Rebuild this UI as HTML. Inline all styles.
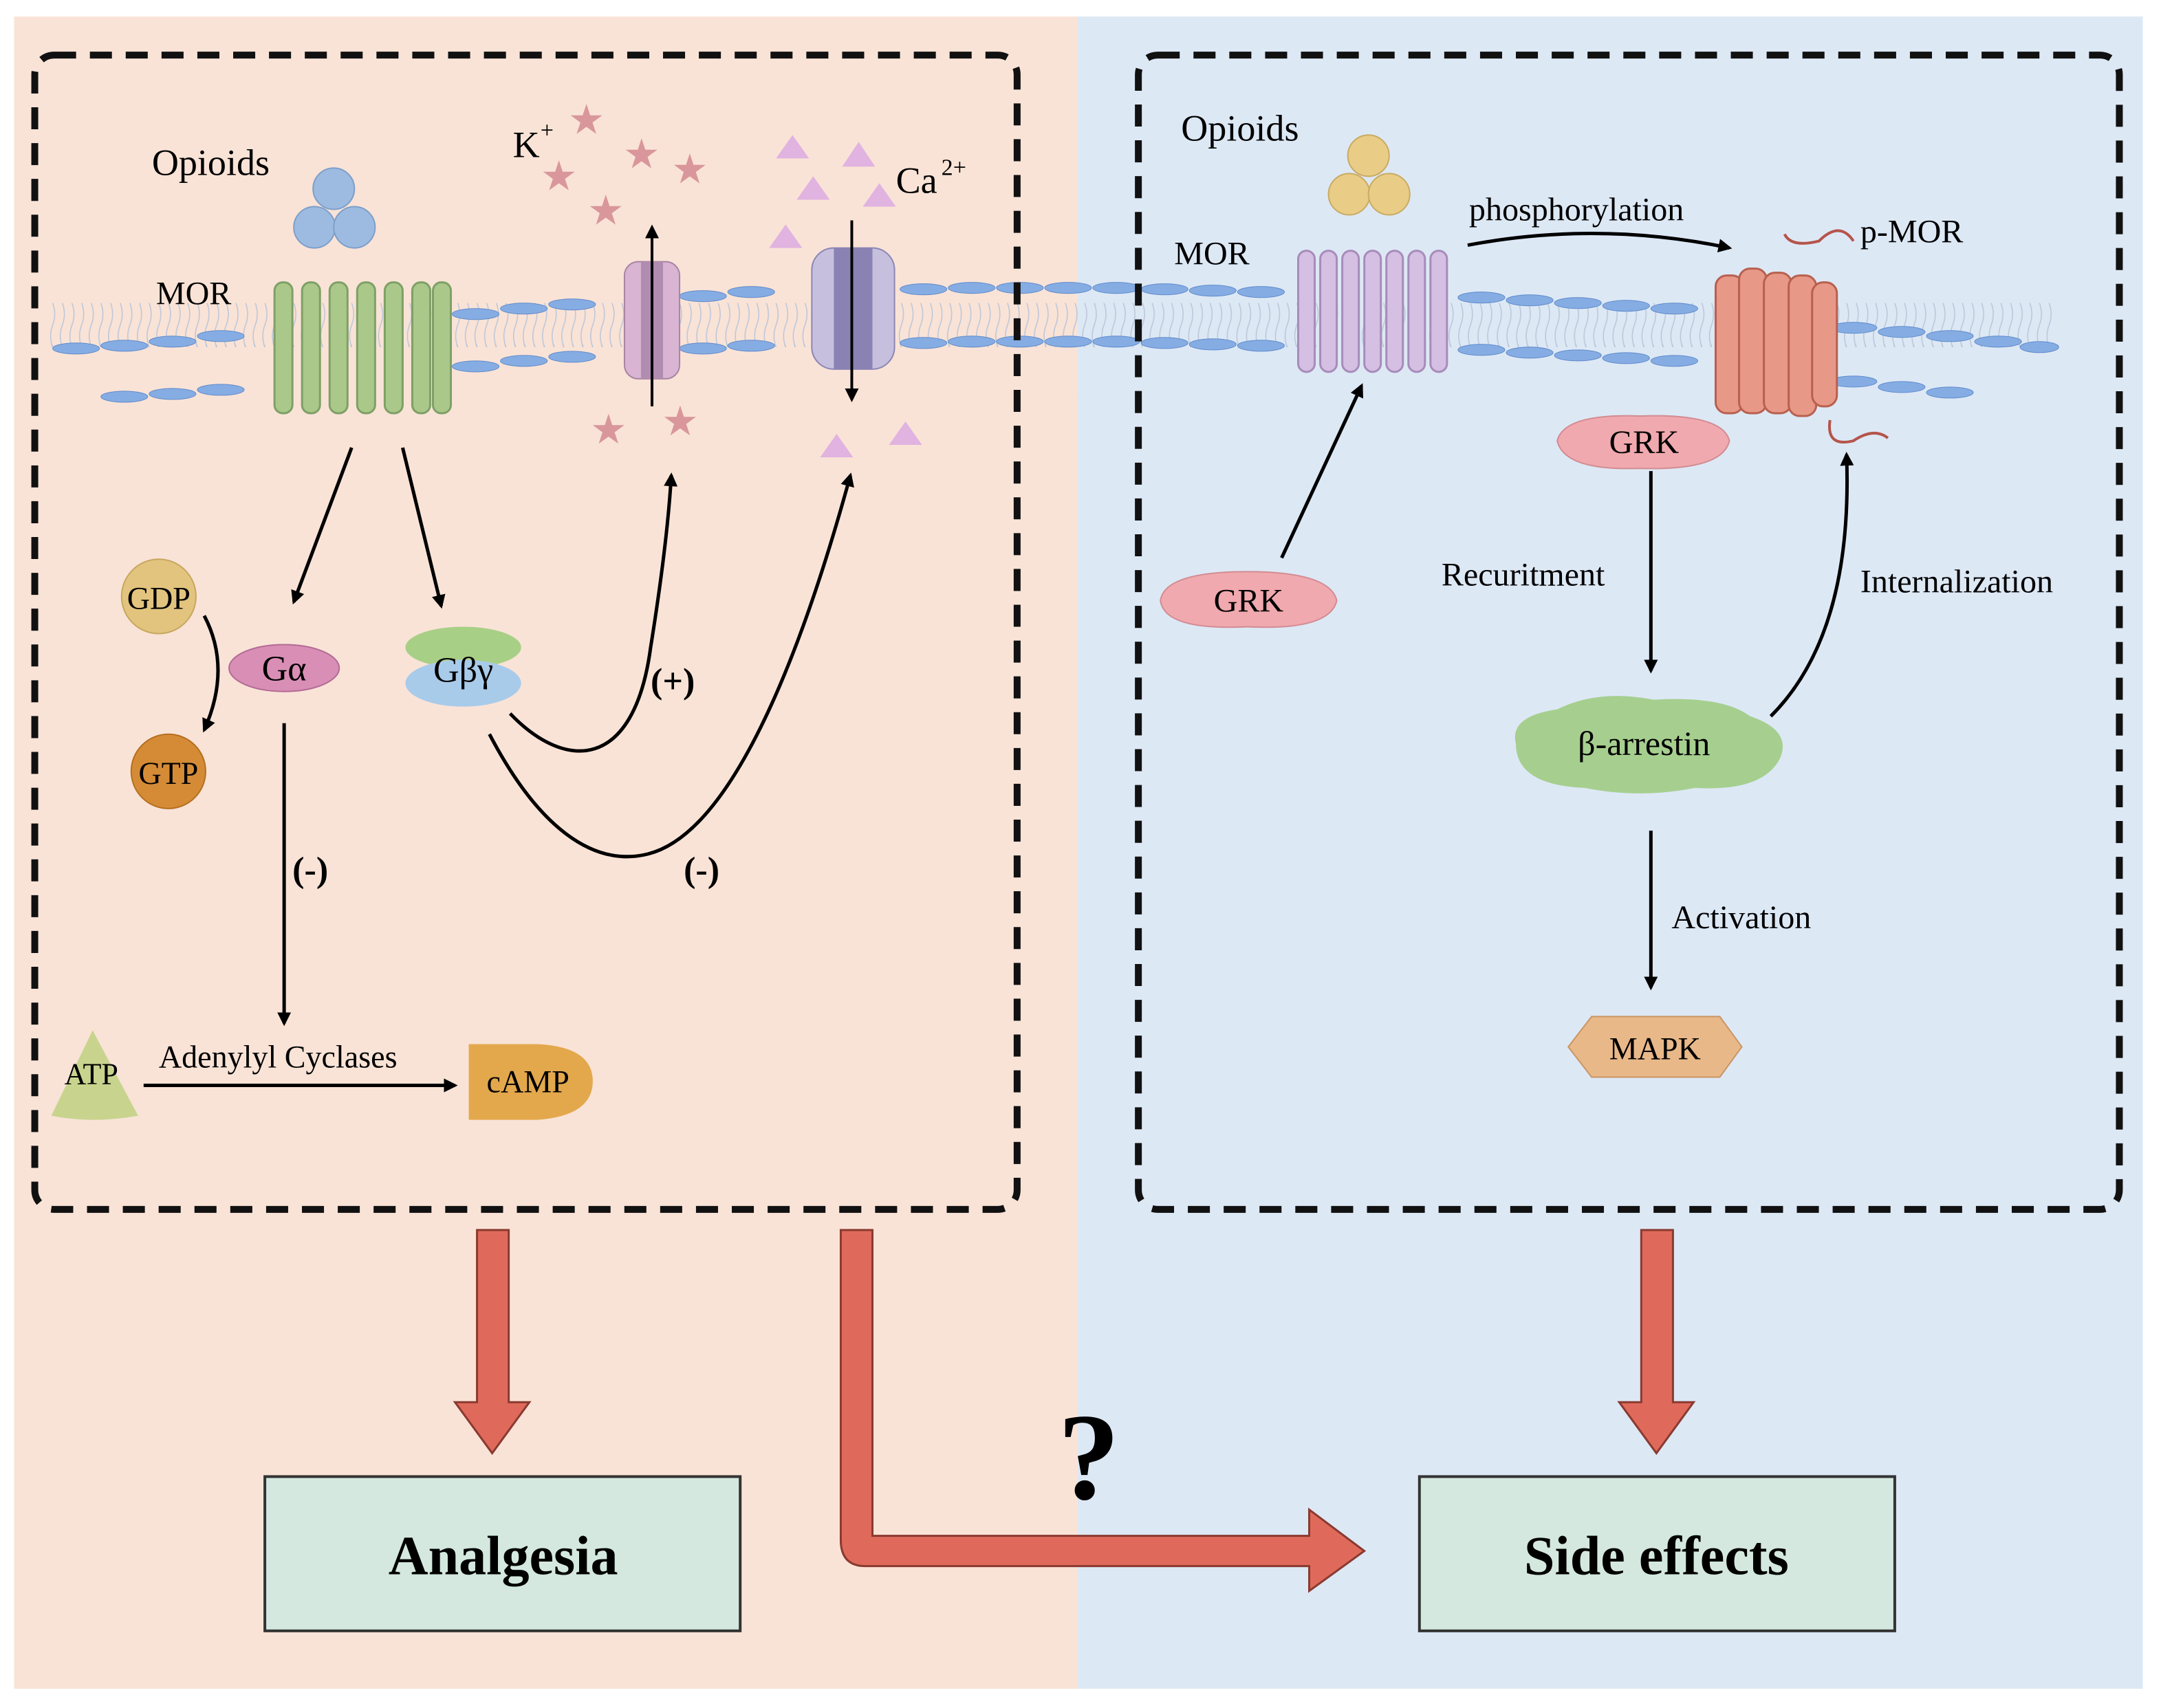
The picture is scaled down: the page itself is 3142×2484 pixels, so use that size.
<!DOCTYPE html>
<html><head><meta charset="utf-8"><style>
html,body{margin:0;padding:0;background:#fff}
svg{display:block}
text{font-family:"Liberation Serif",serif}
</style></head><body>
<svg width="3142" height="2484" viewBox="0 0 1568 1240" xmlns="http://www.w3.org/2000/svg" font-family="Liberation Serif, serif">
<defs>
<marker id="ah" markerWidth="10" markerHeight="10" refX="8" refY="5" orient="auto" markerUnits="userSpaceOnUse"><path d="M0,0 L10,5 L0,10 Z" fill="#000"/></marker>
<pattern id="lip" width="14" height="70" patternUnits="userSpaceOnUse">
<path d="M3,10 q3,8 0,16 q-3,8 0,16 M10,10 q3,8 0,16 q-3,8 0,16" stroke="#b8c4d8" stroke-width="0.8" fill="none"/>
</pattern>
</defs>
<rect x="0" y="0" width="1568" height="1240" fill="#fff"/>
<rect x="10" y="12" width="772" height="1214" fill="#f9e3d7"/>
<rect x="782" y="12" width="773" height="1214" fill="#dde8f5"/>

<path d="M35,250 L1490,250 L1490,290 L70,290 Z" fill="url(#lip)" opacity="0.9"/>
<path d="M35,205 L1490,205 L1490,255 L35,255 Z" fill="url(#lip)" opacity="0.9"/>
<g fill="#86ade3" stroke="#5f8bcb" stroke-width="0.5">
<ellipse cx="55" cy="253" rx="17" ry="4"/><ellipse cx="90" cy="251" rx="17" ry="4"/><ellipse cx="125" cy="248" rx="17" ry="4"/><ellipse cx="160" cy="244" rx="17" ry="4"/>
<ellipse cx="90" cy="288" rx="17" ry="4"/><ellipse cx="125" cy="286" rx="17" ry="4"/><ellipse cx="160" cy="283" rx="17" ry="4"/>
<ellipse cx="345" cy="228" rx="17" ry="4"/><ellipse cx="380" cy="224" rx="17" ry="4"/><ellipse cx="415" cy="221" rx="17" ry="4"/>
<ellipse cx="345" cy="266" rx="17" ry="4"/><ellipse cx="380" cy="262" rx="17" ry="4"/><ellipse cx="415" cy="259" rx="17" ry="4"/>
<ellipse cx="510" cy="215" rx="17" ry="4"/><ellipse cx="545" cy="212" rx="17" ry="4"/>
<ellipse cx="510" cy="253" rx="17" ry="4"/><ellipse cx="545" cy="251" rx="17" ry="4"/>
<ellipse cx="670" cy="210" rx="17" ry="4"/><ellipse cx="705" cy="209" rx="17" ry="4"/><ellipse cx="740" cy="209" rx="17" ry="4"/><ellipse cx="775" cy="209" rx="17" ry="4"/><ellipse cx="810" cy="209" rx="17" ry="4"/><ellipse cx="845" cy="210" rx="17" ry="4"/><ellipse cx="880" cy="211" rx="17" ry="4"/><ellipse cx="915" cy="212" rx="17" ry="4"/>
<ellipse cx="670" cy="249" rx="17" ry="4"/><ellipse cx="705" cy="248" rx="17" ry="4"/><ellipse cx="740" cy="248" rx="17" ry="4"/><ellipse cx="775" cy="248" rx="17" ry="4"/><ellipse cx="810" cy="248" rx="17" ry="4"/><ellipse cx="845" cy="249" rx="17" ry="4"/><ellipse cx="880" cy="250" rx="17" ry="4"/><ellipse cx="915" cy="251" rx="17" ry="4"/>
<ellipse cx="1075" cy="216" rx="17" ry="4"/><ellipse cx="1110" cy="218" rx="17" ry="4"/><ellipse cx="1145" cy="220" rx="17" ry="4"/><ellipse cx="1180" cy="222" rx="17" ry="4"/><ellipse cx="1215" cy="224" rx="17" ry="4"/>
<ellipse cx="1075" cy="254" rx="17" ry="4"/><ellipse cx="1110" cy="256" rx="17" ry="4"/><ellipse cx="1145" cy="258" rx="17" ry="4"/><ellipse cx="1180" cy="260" rx="17" ry="4"/><ellipse cx="1215" cy="262" rx="17" ry="4"/>
<ellipse cx="1345" cy="238" rx="17" ry="4"/><ellipse cx="1380" cy="241" rx="17" ry="4"/><ellipse cx="1415" cy="244" rx="17" ry="4"/><ellipse cx="1450" cy="248" rx="17" ry="4"/><ellipse cx="1480" cy="252" rx="14" ry="4"/>
<ellipse cx="1345" cy="277" rx="17" ry="4"/><ellipse cx="1380" cy="281" rx="17" ry="4"/><ellipse cx="1415" cy="285" rx="17" ry="4"/>
</g>

<rect x="25" y="40" width="713" height="838" rx="14" fill="none" stroke="#111" stroke-width="5" stroke-dasharray="16,10"/>
<rect x="826" y="40" width="712" height="838" rx="14" fill="none" stroke="#111" stroke-width="5" stroke-dasharray="16,10"/>

<text x="110" y="127" font-size="27">Opioids</text>
<g fill="#9dbbe0" stroke="#7d9fca"><circle cx="242" cy="137" r="15"/><circle cx="228" cy="165" r="15"/><circle cx="257" cy="165" r="15"/></g>
<text x="113" y="221" font-size="24">MOR</text>
<g fill="#a9c88a" stroke="#7fa066" stroke-width="1.5">
<rect x="199" y="205" width="13" height="95" rx="6"/><rect x="219" y="205" width="13" height="95" rx="6"/><rect x="239" y="205" width="13" height="95" rx="6"/><rect x="259" y="205" width="13" height="95" rx="6"/><rect x="279" y="205" width="13" height="95" rx="6"/><rect x="299" y="205" width="13" height="95" rx="6"/><rect x="314" y="205" width="13" height="95" rx="6"/>
</g>
<text x="372" y="114" font-size="27">K</text><text x="392" y="100" font-size="17">+</text>
<g fill="#d9979b" font-size="30" font-family="DejaVu Sans">
<text x="412" y="97" font-family="DejaVu Sans">★</text><text x="452" y="122" font-family="DejaVu Sans">★</text><text x="487" y="133" font-family="DejaVu Sans">★</text><text x="392" y="138" font-family="DejaVu Sans">★</text><text x="426" y="163" font-family="DejaVu Sans">★</text><text x="428" y="322" font-family="DejaVu Sans">★</text><text x="480" y="316" font-family="DejaVu Sans">★</text>
</g>
<rect x="453" y="190" width="40" height="85" rx="10" fill="#d9b4d3" stroke="#a885a3"/>
<rect x="465" y="190" width="16" height="85" fill="#b08cb0"/>
<line x1="473" y1="295" x2="473" y2="165" stroke="#000" stroke-width="2" marker-end="url(#ah)"/>
<g fill="#e0b3e0"><path d="M563,115 L575,98 L587,115Z"/><path d="M611,121 L623,103 L635,121Z"/><path d="M578,145 L590,128 L602,145Z"/><path d="M626,150 L638,133 L650,150Z"/><path d="M558,180 L570,163 L582,180Z"/><path d="M595,332 L607,315 L619,332Z"/><path d="M645,323 L657,306 L669,323Z"/></g>
<text x="650" y="140" font-size="27">Ca</text><text x="683" y="127" font-size="17">2+</text>
<rect x="589" y="180" width="60" height="88" rx="16" fill="#c6c0de" stroke="#8d86b5"/>
<rect x="605" y="180" width="28" height="88" fill="#8a82b3"/>
<line x1="618" y1="160" x2="618" y2="290" stroke="#000" stroke-width="2" marker-end="url(#ah)"/>

<line x1="255" y1="325" x2="213" y2="437" stroke="#000" stroke-width="2.5" marker-end="url(#ah)"/>
<line x1="292" y1="325" x2="320" y2="440" stroke="#000" stroke-width="2.5" marker-end="url(#ah)"/>
<circle cx="115" cy="433" r="27" fill="#e2c47e" stroke="#c7a75e"/>
<text x="115" y="442" font-size="23" text-anchor="middle">GDP</text>
<path d="M148,447 Q168,485 148,530" fill="none" stroke="#000" stroke-width="2.5" marker-end="url(#ah)"/>
<circle cx="122" cy="560" r="27" fill="#d58b36" stroke="#b56f20"/>
<text x="122" y="569" font-size="23" text-anchor="middle">GTP</text>
<ellipse cx="206" cy="485" rx="40" ry="17" fill="#d98fb5" stroke="#b36b95"/>
<text x="206" y="494" font-size="26" text-anchor="middle">Gα</text>
<ellipse cx="336" cy="470" rx="42" ry="15" fill="#a8cf86"/>
<ellipse cx="336" cy="496" rx="42" ry="17" fill="#a9cbea"/>
<text x="336" y="495" font-size="26" text-anchor="middle">Gβγ</text>
<path d="M370,518 C410,560 460,560 472,470 C480,420 485,380 487,345" fill="none" stroke="#000" stroke-width="2.5" marker-end="url(#ah)"/>
<text x="472" y="503" font-size="26" font-weight="bold" font-family="Liberation Sans,sans-serif">(+)</text>
<path d="M355,533 C390,600 430,630 470,620 C530,605 580,480 617,345" fill="none" stroke="#000" stroke-width="2.5" marker-end="url(#ah)"/>
<text x="496" y="640" font-size="26" font-weight="bold" font-family="Liberation Sans,sans-serif">(-)</text>
<line x1="206" y1="525" x2="206" y2="743" stroke="#000" stroke-width="2.5" marker-end="url(#ah)"/>
<text x="212" y="640" font-size="26" font-weight="bold" font-family="Liberation Sans,sans-serif">(-)</text>
<path d="M37,810 L67,748 L100,810 Q67,816 37,810Z" fill="#c8d48e"/>
<text x="66" y="787" font-size="22" text-anchor="middle">ATP</text>
<text x="115" y="775" font-size="23">Adenylyl Cyclases</text>
<line x1="104" y1="788" x2="330" y2="788" stroke="#000" stroke-width="2.5" marker-end="url(#ah)"/>
<path d="M340,758 L390,758 Q430,760 430,785 Q430,810 390,813 L340,813Z" fill="#e3a84c"/>
<text x="383" y="793" font-size="23" text-anchor="middle">cAMP</text>

<text x="857" y="102" font-size="27">Opioids</text>
<g fill="#e9cc85" stroke="#c9ab63"><circle cx="993" cy="113" r="15"/><circle cx="979" cy="141" r="15"/><circle cx="1008" cy="141" r="15"/></g>
<text x="852" y="192" font-size="24">MOR</text>
<g fill="#d5bfe2" stroke="#a78cba" stroke-width="1.5">
<rect x="942" y="182" width="12" height="88" rx="6"/><rect x="958" y="182" width="12" height="88" rx="6"/><rect x="974" y="182" width="12" height="88" rx="6"/><rect x="990" y="182" width="12" height="88" rx="6"/><rect x="1006" y="182" width="12" height="88" rx="6"/><rect x="1022" y="182" width="12" height="88" rx="6"/><rect x="1038" y="182" width="12" height="88" rx="6"/>
</g>
<text x="1066" y="160" font-size="24">phosphorylation</text>
<path d="M1065,178 Q1160,160 1255,180" fill="none" stroke="#000" stroke-width="2.5" marker-end="url(#ah)"/>
<text x="1350" y="176" font-size="24">p-MOR</text>
<path d="M1295,170 Q1300,180 1320,175 Q1335,160 1345,175" fill="none" stroke="#b5544a" stroke-width="2"/>
<path d="M1328,305 Q1325,325 1345,320 Q1360,310 1370,318" fill="none" stroke="#b5544a" stroke-width="2"/>
<g fill="#e89886" stroke="#b8604f" stroke-width="1.5">
<rect x="1245" y="200" width="20" height="100" rx="8"/><rect x="1262" y="195" width="20" height="105" rx="8"/><rect x="1280" y="198" width="20" height="102" rx="8"/><rect x="1298" y="200" width="20" height="102" rx="8"/><rect x="1315" y="205" width="18" height="90" rx="8"/>
</g>
<path d="M1130,320 Q1135,300 1190,302 Q1250,300 1255,320 Q1250,342 1190,340 Q1135,342 1130,320Z" fill="#f0a9ae" stroke="#d28c92"/>
<text x="1193" y="329" font-size="24" text-anchor="middle">GRK</text>
<path d="M842,436 Q845,415 905,415 Q965,415 970,436 Q965,458 905,455 Q845,458 842,436Z" fill="#f0a9ae" stroke="#d28c92"/>
<text x="906" y="444" font-size="24" text-anchor="middle">GRK</text>
<line x1="930" y1="405" x2="988" y2="280" stroke="#000" stroke-width="2.5" marker-end="url(#ah)"/>
<line x1="1198" y1="342" x2="1198" y2="487" stroke="#000" stroke-width="2.5" marker-end="url(#ah)"/>
<text x="1046" y="425" font-size="24">Recuritment</text>
<path d="M1100,540 Q1095,520 1130,515 Q1160,500 1200,508 Q1250,505 1270,520 Q1300,530 1292,550 Q1280,575 1230,572 Q1190,580 1150,572 Q1100,570 1100,540Z" fill="#a6cf8f"/>
<text x="1193" y="548" font-size="25" text-anchor="middle">β-arrestin</text>
<path d="M1285,520 Q1345,460 1340,330" fill="none" stroke="#000" stroke-width="2.5" marker-end="url(#ah)"/>
<text x="1350" y="430" font-size="24">Internalization</text>
<line x1="1198" y1="603" x2="1198" y2="717" stroke="#000" stroke-width="2.5" marker-end="url(#ah)"/>
<text x="1213" y="674" font-size="24">Activation</text>
<path d="M1138,760 L1155,738 L1248,738 L1264,760 L1248,782 L1155,782Z" fill="#e9b889" stroke="#c99563"/>
<text x="1201" y="769" font-size="23" text-anchor="middle">MAPK</text>

<g fill="#df6a5b" stroke="#8a3a30" stroke-width="1.5">
<path d="M346,893 L369,893 L369,1018 L384,1018 L357,1055 L330,1018 L346,1018Z"/>
<path d="M1191,893 L1214,893 L1214,1018 L1229,1018 L1202,1055 L1175,1018 L1191,1018Z"/>
<path d="M610,893 L633,893 L633,1115 L950,1115 L950,1096 L990,1126 L950,1155 L950,1137 L628,1137 Q610,1137 610,1118Z"/>
</g>
<text x="790" y="1088" font-size="90" font-weight="bold" font-family="Liberation Sans,sans-serif" text-anchor="middle">?</text>
<rect x="192" y="1072" width="345" height="112" fill="#d4e8df" stroke="#333" stroke-width="2"/>
<text x="365" y="1143" font-size="40" font-weight="bold" text-anchor="middle">Analgesia</text>
<rect x="1030" y="1072" width="345" height="112" fill="#d4e8df" stroke="#333" stroke-width="2"/>
<text x="1202" y="1143" font-size="40" font-weight="bold" text-anchor="middle">Side effects</text>
</svg>
</body></html>
